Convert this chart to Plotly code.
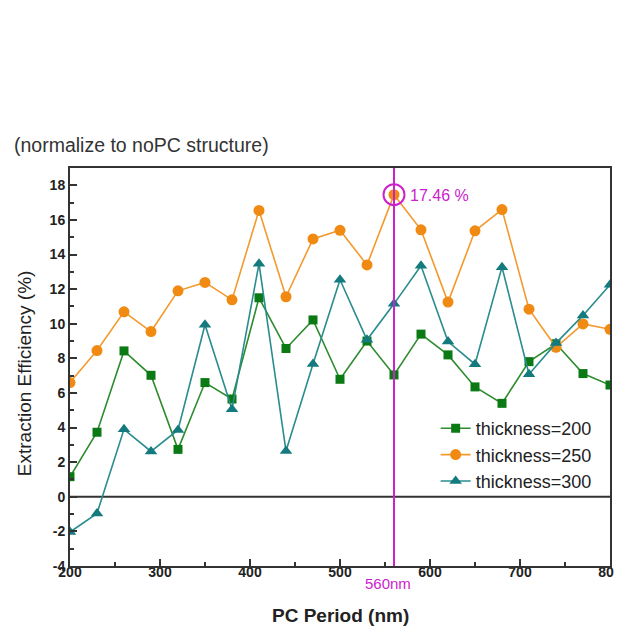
import plotly.graph_objects as go

period = [200, 230, 260, 290, 320, 350, 380, 410, 440, 470, 500, 530, 560, 590, 620, 650, 680, 710, 740, 770, 800]
t200 = [1.16, 3.73, 8.43, 7.02, 2.74, 6.6, 5.65, 11.5, 8.57, 10.22, 6.79, 9.0, 7.04, 9.4, 8.2, 6.35, 5.4, 7.81, 8.84, 7.12, 6.46]
t250 = [6.6, 8.45, 10.69, 9.55, 11.9, 12.39, 11.38, 16.55, 11.56, 14.9, 15.4, 13.4, 17.46, 15.43, 11.25, 15.37, 16.6, 10.84, 8.64, 9.99, 9.68]
t300 = [-2.04, -0.96, 3.9, 2.62, 3.86, 9.94, 5.06, 13.47, 2.64, 7.68, 12.54, 9.07, 11.15, 13.35, 8.97, 7.66, 13.27, 7.08, 8.88, 10.48, 12.25]
names = ["thickness=200", "thickness=250", "thickness=300"]
x_ticks = [200, 300, 400, 500, 600, 700, 800]
y_ticks = list(range(-4, 19, 2))
y_min, y_max = -4, 19
peak_x = 560
peak_y = 17.46

FONT = "Liberation Sans, Arial, sans-serif"
MAG = "#cc22cc"

# page has an 8px body margin: figure sized to fit the window
W, H = 614, 620
OFF = 8
L, R, T, B = 62, 10, 160, 62
pw, ph = W - L - R, H - T - B


def px(xp):
    return (xp - OFF - L) / pw


def py(yp):
    return (H - B - (yp - OFF)) / ph


fig = go.Figure()
fig.add_trace(go.Scatter(x=period, y=t200, mode="lines+markers", name=names[0],
                         line=dict(color="#2e8b2e", width=1.6),
                         marker=dict(symbol="square", size=9, color="#0b7a14")))
fig.add_trace(go.Scatter(x=period, y=t250, mode="lines+markers", name=names[1],
                         line=dict(color="#f39a2e", width=1.6),
                         marker=dict(symbol="circle", size=11, color="#f08a12")))
fig.add_trace(go.Scatter(x=period, y=t300, mode="lines+markers", name=names[2],
                         line=dict(color="#2a8c8e", width=1.6),
                         marker=dict(symbol="triangle-up", size=11, color="#147a7e")))

# x tick labels drawn as text on the x scale, just below the axis
fig.add_trace(go.Scatter(x=x_ticks, y=[y_min] * len(x_ticks), mode="text",
                         text=["<b>%d</b>" % v for v in x_ticks],
                         textposition="bottom center", cliponaxis=False,
                         showlegend=False, hoverinfo="skip",
                         textfont=dict(family=FONT, size=14, color="#222222")))

# zero line
fig.add_shape(type="line", xref="paper", yref="y", x0=0, x1=1, y0=0, y1=0,
              line=dict(color="#333333", width=2), layer="below")
# vertical marker line at 560
fig.add_shape(type="line", xref="x", yref="paper", x0=peak_x, x1=peak_x, y0=0, y1=1,
              line=dict(color=MAG, width=2))
# circle around peak
fig.add_trace(go.Scatter(x=[peak_x], y=[peak_y], mode="markers", showlegend=False,
                         hoverinfo="skip",
                         marker=dict(symbol="circle-open", size=21, color=MAG,
                                     line=dict(width=2, color=MAG))))

fig.add_annotation(x=peak_x, y=0, xref="x", yref="paper", text="560nm",
                   showarrow=False, xanchor="right", yanchor="top", yshift=-7, xshift=19,
                   font=dict(family=FONT, size=15, color=MAG))
fig.add_annotation(x=peak_x, y=peak_y, xref="x", yref="y", text="17.46 %",
                   showarrow=False, xanchor="left", xshift=14, yshift=-1,
                   font=dict(family=FONT, size=16, color=MAG))
fig.add_annotation(x=px(12), y=py(145), xref="paper", yref="paper",
                   text="(normalize to noPC structure)",
                   showarrow=False, xanchor="left", yanchor="middle",
                   font=dict(family=FONT, size=19.5, color="#333333"))
fig.add_annotation(x=px(341), y=py(615), xref="paper", yref="paper", text="<b>PC Period (nm)</b>",
                   showarrow=False, xanchor="center", yanchor="middle",
                   font=dict(family=FONT, size=19, color="#222222"))
fig.add_annotation(x=px(24), y=py(373), xref="paper", yref="paper", text="Extraction Efficiency (%)",
                   showarrow=False, xanchor="center", yanchor="middle", textangle=-90,
                   font=dict(family=FONT, size=19, color="#222222"))

fig.update_layout(
    width=W, height=H,
    margin=dict(l=L, r=R, t=T, b=B),
    paper_bgcolor="white", plot_bgcolor="white",
    font=dict(family=FONT, color="#222222"),
    showlegend=True,
    legend=dict(x=px(437), y=py(410), xanchor="left", yanchor="top",
                bgcolor="rgba(0,0,0,0)", font=dict(family=FONT, size=18, color="#222222"),
                tracegroupgap=0),
    xaxis=dict(range=[200, 800], tickvals=x_ticks, showticklabels=False,
               ticks="inside", ticklen=7, tickwidth=1.5, tickcolor="#333333",
               minor=dict(ticks="inside", ticklen=4, dtick=50, tick0=200, tickcolor="#333333"),
               showline=True, linecolor="#333333", linewidth=2, mirror=True,
               showgrid=False, zeroline=False),
    yaxis=dict(range=[y_min, y_max], tickvals=y_ticks,
               ticktext=["<b>%d</b>" % v for v in y_ticks],
               ticks="inside", ticklen=7, tickwidth=1.5, tickcolor="#333333",
               minor=dict(ticks="inside", ticklen=4, dtick=1, tick0=0, tickcolor="#333333"),
               showline=True, linecolor="#333333", linewidth=2, mirror=True,
               showgrid=False, zeroline=False,
               tickfont=dict(family=FONT, size=14, color="#222222")),
)

fig.write_html("out.html")
